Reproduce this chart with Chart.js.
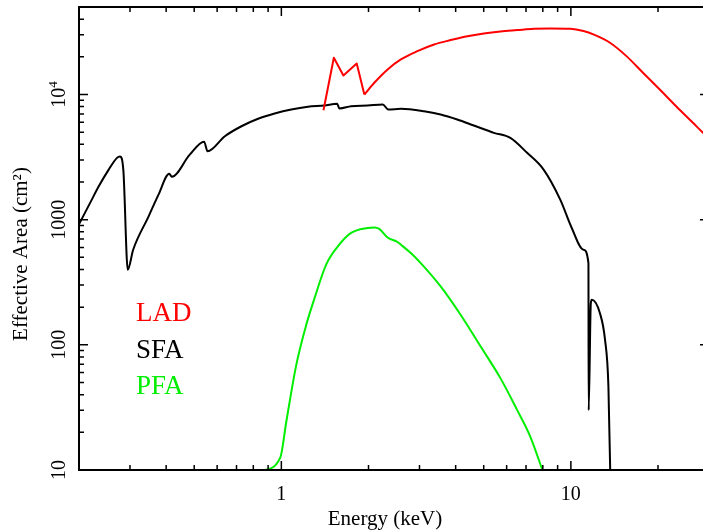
<!DOCTYPE html>
<html>
<head>
<meta charset="utf-8">
<script src="https://cdn.jsdelivr.net/npm/chart.js@4.4.0/dist/chart.umd.min.js"></script>
<style>
body { margin: 0; overflow: hidden; background: #fff; }
</style>
</head>
<body>
<canvas id="grafik" width="710" height="530"></canvas>
<script>
// energi (keV) dan luas efektif (cm2) tiap instrumen
const sfaEnergy = [0.2, 0.2185, 0.234, 0.2533, 0.2706, 0.277, 0.2845, 0.2948, 0.3077, 0.348, 0.3764, 0.41, 0.4184,
    0.4826, 0.541, 0.556, 0.638, 0.728, 0.831, 0.948, 1.082, 1.235, 1.409, 1.558, 1.587, 1.741, 1.987,
    2.24, 2.34, 2.587, 3.11, 3.55, 4.05, 4.62, 5.42, 6.18, 7.06, 8.05, 9.19, 10.07, 11.06,
    11.5, 11.52, 11.72, 11.82, 12.6, 13.12, 13.48, 13.75];
const sfaArea = [920, 1361, 1846, 2512, 3116, 3200, 2512, 398, 575, 1063, 1585, 2330, 2197,
    3311, 4200, 3516, 4640, 5575, 6395, 7047, 7586, 7976, 8166, 8430, 7730, 8060, 8166,
    8318, 7586, 7690, 7350, 6918, 6310, 5650, 4940, 4500, 3420, 2512, 1445, 858, 575,
    450, 30, 215, 229, 179, 110, 46.4, 5];

const ladEnergy = [1.398, 1.518, 1.638, 1.821, 1.935, 2.094, 2.328, 2.587, 2.95, 3.37, 3.845, 4.39, 5.005,
    5.71, 6.52, 7.45, 8.49, 9.97, 11.06, 11.96, 13.65, 15.56, 17.74, 20.28, 23.1, 26.4, 28.6, 30];
const ladArea = [7490, 19670, 14190, 17700, 10000, 12400, 15850, 19050, 22200, 25100, 27200, 29250, 30760,
    31900, 32700, 33500, 33730, 33500, 32100, 30200, 25900, 20250, 14920, 10960, 8060, 5940, 4940, 4446];
// tepi tajam LAD sampai indeks ini
const ladEdgeEnd = 4;

const pfaEnergy = [0.86, 0.992, 1.04, 1.126, 1.219, 1.302, 1.428, 1.567, 1.741, 1.987, 2.094, 2.179, 2.328,
    2.519, 2.587, 2.8, 3.03, 3.55, 4.16, 4.88, 5.71, 6.52, 7.24, 8.05];
const pfaArea = [9.8, 12.6, 24.3, 69.2, 144.5, 236, 437, 611, 783, 858, 867, 843, 721,
    663, 631, 541, 450, 293, 174, 97, 54.2, 30.2, 18.5, 9.4];

// label sumbu
const xTicks = [1, 10];
const xTickLabels = ['1', '10'];
const yTicks = [10, 100, 1000, 10000];
const yTickLabels = ['10', '100', '1000', '10^4'];

const seriesNames = ['LAD', 'SFA', 'PFA'];
const seriesColors = ['#ff0000', '#000000', '#00ee00'];

function toPoints(xs, ys) {
    return xs.map((x, i) => ({ x: x, y: ys[i] }));
}

const serif = '"Liberation Serif", "Times New Roman", serif';

// gambar bingkai, tick dan teks
const bingkai = {
    id: 'bingkai',
    afterDraw(chart) {
        const ctx = chart.ctx;
        const area = chart.chartArea;
        const sx = chart.scales.x;
        const sy = chart.scales.y;
        ctx.save();
        ctx.strokeStyle = '#000';
        ctx.lineWidth = 1.5;

        // tick sumbu x (bawah & atas)
        [0.1, 1, 10].forEach(dec => {
            for (let m = 1; m <= 9; m++) {
                const v = dec * m;
                if (v < sx.min - 1e-9 || v > sx.max + 1e-9) continue;
                const px = sx.getPixelForValue(v);
                const len = m === 1 ? 9 : 5;
                ctx.beginPath();
                ctx.moveTo(px, area.bottom);
                ctx.lineTo(px, area.bottom - len);
                ctx.moveTo(px, area.top);
                ctx.lineTo(px, area.top + len);
                ctx.stroke();
            }
        });

        // tick sumbu y (kiri & kanan)
        [10, 100, 1000, 10000].forEach(dec => {
            for (let m = 1; m <= 9; m++) {
                const v = dec * m;
                if (v < sy.min - 1e-9 || v > sy.max + 1e-9) continue;
                const py = sy.getPixelForValue(v);
                const len = m === 1 ? 9 : 5;
                ctx.beginPath();
                ctx.moveTo(area.left, py);
                ctx.lineTo(area.left + len, py);
                ctx.moveTo(area.right, py);
                ctx.lineTo(area.right - len, py);
                ctx.stroke();
            }
        });

        ctx.lineWidth = 2;
        ctx.strokeRect(area.left, area.top, area.right - area.left, area.bottom - area.top);

        ctx.fillStyle = '#000';

        // label tick x
        ctx.font = '20px ' + serif;
        ctx.textAlign = 'center';
        ctx.textBaseline = 'alphabetic';
        xTicks.forEach((v, i) => {
            ctx.fillText(xTickLabels[i], sx.getPixelForValue(v), 500);
        });

        // label tick y (diputar)
        yTicks.forEach((v, i) => {
            const py = sy.getPixelForValue(v);
            ctx.save();
            ctx.translate(65, py);
            ctx.rotate(-Math.PI / 2);
            const label = yTickLabels[i];
            if (label.indexOf('^') >= 0) {
                const parts = label.split('^');
                ctx.font = '20px ' + serif;
                const wBase = ctx.measureText(parts[0]).width;
                ctx.font = '13px ' + serif;
                const wExp = ctx.measureText(parts[1]).width;
                const start = -(wBase + wExp) / 2;
                ctx.textAlign = 'left';
                ctx.font = '20px ' + serif;
                ctx.fillText(parts[0], start, 0);
                ctx.font = '13px ' + serif;
                ctx.fillText(parts[1], start + wBase, -8);
            } else {
                ctx.font = '20px ' + serif;
                ctx.textAlign = 'center';
                ctx.fillText(label, 0, 0);
            }
            ctx.restore();
        });

        // judul sumbu
        ctx.font = '21px ' + serif;
        ctx.textAlign = 'center';
        ctx.fillText('Energy (keV)', 385, 525);
        ctx.save();
        ctx.translate(27, 254);
        ctx.rotate(-Math.PI / 2);
        ctx.fillText('Effective Area (cm\u00B2)', 0, 0);
        ctx.restore();

        // keterangan
        ctx.font = '27px ' + serif;
        ctx.textAlign = 'left';
        const baselines = [321, 358, 394];
        seriesNames.forEach((name, i) => {
            ctx.fillStyle = seriesColors[i];
            ctx.fillText(name, 136, baselines[i]);
        });

        ctx.restore();
    }
};

const ladPoints = toPoints(ladEnergy, ladArea);

const dataDiagram = {
    datasets: [
        {
            // tepi absorpsi LAD: garis lurus
            label: seriesNames[0],
            borderColor: seriesColors[0],
            cubicInterpolationMode: 'default',
            tension: 0,
            data: ladPoints.slice(0, ladEdgeEnd + 1),
        },
        {
            label: seriesNames[0],
            borderColor: seriesColors[0],
            data: ladPoints.slice(ladEdgeEnd),
        },
        {
            label: seriesNames[1],
            borderColor: seriesColors[1],
            data: toPoints(sfaEnergy, sfaArea),
        },
        {
            label: seriesNames[2],
            borderColor: seriesColors[2],
            data: toPoints(pfaEnergy, pfaArea),
        },
    ]
};

const config = {
    type: 'line',
    data: dataDiagram,
    options: {
        responsive: false,
        animation: false,
        devicePixelRatio: 1,
        layout: { padding: { left: 79, top: 7, right: 1, bottom: 60 } },
        plugins: {
            legend: { display: false },
            tooltip: { enabled: false }
        },
        elements: {
            point: { radius: 0 },
            line: { borderWidth: 2, cubicInterpolationMode: 'monotone', fill: false, borderJoinStyle: 'round' }
        },
        scales: {
            x: { type: 'logarithmic', min: 0.2, max: 30, display: false },
            y: { type: 'logarithmic', min: 10, max: 50000, display: false }
        }
    },
    plugins: [bingkai]
};

const myChart = new Chart(document.getElementById('grafik'), config);
</script>
</body>
</html>
